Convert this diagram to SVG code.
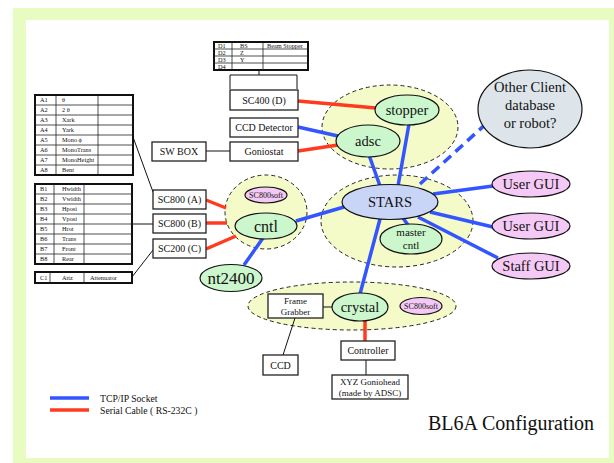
<svg xmlns="http://www.w3.org/2000/svg" width="614" height="463" viewBox="0 0 614 463">
<style>
text{font-family:"Liberation Serif","Times New Roman",serif;fill:#111;}
.grp{fill:#f4fac8;stroke:#222;stroke-width:1;stroke-dasharray:4,3;}
.green{fill:#ccf7cc;stroke:#111;stroke-width:1.2;}
.pink{fill:#f5c9f5;stroke:#111;stroke-width:1.2;}
.stars{fill:#c9d5f7;stroke:#111;stroke-width:1.2;}
.other{fill:#dde5ea;stroke:#111;stroke-width:1.2;}
.box{fill:#fff;stroke:#222;stroke-width:1.3;}
.tb{fill:#fff;stroke:#111;stroke-width:2;}
.tl{stroke:#222;stroke-width:0.8;fill:none;}
.blue{stroke:#3355ff;stroke-width:3.5;fill:none;}
.red{stroke:#ff3b1f;stroke-width:3.5;fill:none;}
.thin{stroke:#111;stroke-width:1;fill:none;}
.t6{font-size:6.3px;}
.t10{font-size:10px;text-anchor:middle;}
.t9{font-size:9px;text-anchor:middle;}
.t8{font-size:8px;text-anchor:middle;}
.t14{font-size:14.5px;text-anchor:middle;}
</style>
<rect x="13" y="8" width="601" height="455" fill="#e8fbc0"/>
<rect x="26" y="20" width="583" height="438" fill="#fff"/>

<!-- group ellipses -->
<g id="grp-stopper"><ellipse class="grp" cx="390" cy="127" rx="68" ry="42"/></g>
<g id="grp-stars"><ellipse class="grp" cx="397" cy="221" rx="76" ry="46"/></g>
<g id="grp-cntl"><ellipse class="grp" cx="266" cy="212" rx="41" ry="37"/></g>
<g id="grp-crystal"><ellipse class="grp" cx="352" cy="306" rx="104" ry="24"/></g>

<!-- connectors -->
<g id="connectors">
<line class="blue" x1="298" y1="127" x2="338" y2="136"/>
<line class="blue" x1="409" y1="124" x2="398" y2="186"/>
<line class="blue" x1="369" y1="155" x2="380" y2="186"/>
<line class="blue" x1="296" y1="221" x2="344" y2="207"/>
<line class="blue" x1="263" y1="238" x2="244" y2="265"/>
<line class="blue" x1="380" y1="219" x2="360" y2="294"/>
<line class="blue" x1="403" y1="218" x2="408" y2="225"/>
<line class="blue" x1="433" y1="194" x2="493" y2="186"/>
<line class="blue" x1="430" y1="212" x2="493" y2="227"/>
<line class="blue" x1="418" y1="217" x2="498" y2="258"/>
<line class="blue" x1="420" y1="184" x2="488" y2="122" stroke-dasharray="10,6"/>
<line class="red" x1="298" y1="101" x2="376" y2="108"/>
<line class="red" x1="298" y1="151" x2="338" y2="145"/>
<line class="red" x1="206" y1="200" x2="226" y2="208"/>
<line class="red" x1="206" y1="223" x2="227" y2="223"/>
<line class="red" x1="206" y1="249" x2="236" y2="236"/>
<line class="red" x1="365" y1="321" x2="365" y2="341"/>
<line class="thin" x1="133" y1="137" x2="153" y2="192"/>
<line class="thin" x1="132" y1="224" x2="153" y2="224"/>
<line class="thin" x1="132" y1="277" x2="153" y2="250"/>
<polyline class="thin" points="259,70 259,75"/>
<polyline class="thin" points="230,89 230,75 297,75 297,89"/>
<line class="thin" x1="206" y1="151" x2="230" y2="151"/>
<line class="thin" x1="323" y1="307" x2="332" y2="307"/>
<line class="thin" x1="295" y1="318" x2="283" y2="355"/>
<line class="thin" x1="366" y1="360" x2="366" y2="375"/>
</g>

<!-- tables -->
<g id="table-A">
<rect class="tb" x="35" y="95" width="98" height="80"/>
<path class="tl" d="M56 95V175M98 95V175M35 105H133M35 115H133M35 125H133M35 135H133M35 145H133M35 155H133M35 165H133"/>
<g class="t6">
<text x="40" y="102.2">A1</text><text x="62" y="102.2">θ</text>
<text x="40" y="112.2">A2</text><text x="62" y="112.2">2 θ</text>
<text x="40" y="122.2">A3</text><text x="62" y="122.2">Xark</text>
<text x="40" y="132.2">A4</text><text x="62" y="132.2">Yark</text>
<text x="40" y="142.2">A5</text><text x="62" y="142.2">Mono ϕ</text>
<text x="40" y="152.2">A6</text><text x="62" y="152.2">MonoTrans</text>
<text x="40" y="162.2">A7</text><text x="62" y="162.2">MonoHeight</text>
<text x="40" y="172.2">A8</text><text x="62" y="172.2">Bent</text>
</g>
</g>
<g id="table-B">
<rect class="tb" x="35" y="184" width="97" height="80"/>
<path class="tl" d="M54 184V264M84 184V264M35 194H132M35 204H132M35 214H132M35 224H132M35 234H132M35 244H132M35 254H132"/>
<g class="t6">
<text x="40" y="191.2">B1</text><text x="62" y="191.2">Hwidth</text>
<text x="40" y="201.2">B2</text><text x="62" y="201.2">Vwidth</text>
<text x="40" y="211.2">B3</text><text x="62" y="211.2">Hposi</text>
<text x="40" y="221.2">B4</text><text x="62" y="221.2">Vposi</text>
<text x="40" y="231.2">B5</text><text x="62" y="231.2">Hrot</text>
<text x="40" y="241.2">B6</text><text x="62" y="241.2">Trans</text>
<text x="40" y="251.2">B7</text><text x="62" y="251.2">Front</text>
<text x="40" y="261.2">B8</text><text x="62" y="261.2">Rear</text>
</g>
</g>
<g id="table-C">
<rect class="tb" x="35" y="272" width="97" height="11"/>
<path class="tl" d="M50 272V283M84 272V283"/>
<g class="t6">
<text x="40" y="279.8">C1</text><text x="62" y="279.8">Attz</text><text x="90" y="279.8">Attenuator</text>
</g>
</g>
<g id="table-D">
<rect class="tb" x="214" y="42" width="94" height="28"/>
<path class="tl" d="M232 42V70M263 42V70M214 49H308M214 56H308M214 63H308"/>
<g class="t6">
<text x="218" y="47.8">D1</text><text x="240" y="47.8">BS</text><text x="267" y="47.8">Beam Stopper</text>
<text x="218" y="54.8">D2</text><text x="240" y="54.8">Z</text>
<text x="218" y="61.8">D3</text><text x="240" y="61.8">Y</text>
<text x="218" y="68.8">D4</text>
</g>
</g>

<!-- boxes -->
<g id="sc400"><rect class="box" x="230" y="90" width="68" height="20"/><text class="t10" x="264" y="103.5">SC400 (D)</text></g>
<g id="ccd-detector"><rect class="box" x="230" y="118" width="68" height="19"/><text class="t10" x="264" y="131">CCD Detector</text></g>
<g id="goniostat"><rect class="box" x="230" y="142" width="68" height="19"/><text class="t10" x="264" y="155">Goniostat</text></g>
<g id="swbox"><rect class="box" x="152" y="142" width="54" height="19"/><text class="t10" x="179" y="155">SW BOX</text></g>
<g id="sc800a"><rect class="box" x="153" y="190" width="53" height="19"/><text class="t10" x="179.5" y="203">SC800 (A)</text></g>
<g id="sc800b"><rect class="box" x="153" y="214" width="53" height="19"/><text class="t10" x="179.5" y="227">SC800 (B)</text></g>
<g id="sc200c"><rect class="box" x="153" y="239" width="53" height="19"/><text class="t10" x="179.5" y="252">SC200 (C)</text></g>
<g id="frame-grabber"><rect class="box" x="268" y="294" width="55" height="24"/><text class="t9" x="295.5" y="304">Frame</text><text class="t9" x="295.5" y="315">Grabber</text></g>
<g id="ccd"><rect class="box" x="263" y="355" width="35" height="20"/><text class="t10" x="280.5" y="368.5">CCD</text></g>
<g id="controller"><rect class="box" x="341" y="341" width="54" height="19"/><text class="t10" x="368" y="354">Controller</text></g>
<g id="xyz"><rect class="box" x="332" y="375" width="76" height="24"/><text class="t9" x="370" y="385">XYZ Goniohead</text><text class="t9" x="370" y="396">(made by ADSC)</text></g>

<!-- ellipse nodes -->
<g id="stopper"><ellipse class="green" cx="407" cy="110" rx="32" ry="15"/><text class="t14" x="407" y="115">stopper</text></g>
<g id="adsc"><ellipse class="green" cx="368" cy="141" rx="32" ry="16"/><text class="t14" x="368" y="146">adsc</text></g>
<g id="stars"><ellipse class="stars" cx="390" cy="202" rx="48" ry="17.5"/><text class="t14" x="390" y="207">STARS</text></g>
<g id="master-cntl"><ellipse class="green" cx="411" cy="239" rx="31" ry="15"/><text x="411" y="236" font-size="11" text-anchor="middle">master</text><text x="411" y="249" font-size="11" text-anchor="middle">cntl</text></g>
<g id="other-client"><ellipse class="other" cx="530" cy="109" rx="52" ry="39"/><text class="t14" x="530" y="92">Other Client</text><text class="t14" x="530" y="110">database</text><text class="t14" x="530" y="128">or robot?</text></g>
<g id="user-gui-1"><ellipse class="pink" cx="531" cy="184" rx="39" ry="13"/><text class="t14" x="531" y="189">User GUI</text></g>
<g id="user-gui-2"><ellipse class="pink" cx="531" cy="226" rx="39" ry="13"/><text class="t14" x="531" y="231">User GUI</text></g>
<g id="staff-gui"><ellipse class="pink" cx="531" cy="266" rx="39" ry="13"/><text class="t14" x="531" y="271">Staff GUI</text></g>
<g id="sc800soft-1"><ellipse class="pink" cx="266" cy="195" rx="21" ry="8"/><text class="t8" x="266" y="198">SC800soft</text></g>
<g id="cntl"><ellipse class="green" cx="266" cy="226" rx="31" ry="13"/><text x="266" y="231.5" font-size="16" text-anchor="middle">cntl</text></g>
<g id="nt2400"><ellipse class="green" cx="231" cy="278" rx="31" ry="13.5"/><text x="231" y="284" font-size="17" text-anchor="middle">nt2400</text></g>
<g id="crystal"><ellipse class="green" cx="360" cy="307" rx="28" ry="14"/><text class="t14" x="360" y="312">crystal</text></g>
<g id="sc800soft-2"><ellipse class="pink" cx="421" cy="306" rx="21" ry="8.5"/><text class="t8" x="421" y="309">SC800soft</text></g>

<!-- legend -->
<g id="legend">
<line class="blue" x1="50" y1="398" x2="89" y2="398"/>
<line class="red" x1="50" y1="410" x2="89" y2="410"/>
<text x="100" y="401.5" font-size="9.7">TCP/IP Socket</text>
<text x="100" y="413.5" font-size="9.7">Serial Cable ( RS-232C )</text>
</g>
<text x="428" y="430" font-size="20">BL6A Configuration</text>
</svg>
